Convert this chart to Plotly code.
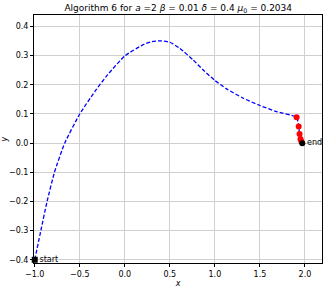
import plotly.graph_objects as go

# path of the iterates
path_x = [-1.0, -0.93, -0.863, -0.781, -0.667, -0.5, -0.333, -0.192, 0.0, 0.2, 0.3, 0.389, 0.5, 0.611, 0.759, 0.87, 0.992, 1.13, 1.315, 1.5, 1.685, 1.907, 1.93, 1.94, 1.95, 1.97]
path_y = [-0.4, -0.297, -0.2, -0.1, 0.0, 0.1, 0.177, 0.234, 0.299, 0.337, 0.348, 0.351, 0.346, 0.325, 0.285, 0.251, 0.217, 0.186, 0.154, 0.129, 0.108, 0.089, 0.057, 0.031, 0.014, 0.0]

# highlighted iterates (red)
red_x = [1.907, 1.93, 1.94, 1.95, 1.96]
red_y = [0.089, 0.057, 0.031, 0.014, 0.006]

start_x, start_y = -1.0, -0.4
end_x, end_y = 1.97, 0.0

x_ticks = [-1.0, -0.5, 0.0, 0.5, 1.0, 1.5, 2.0]
y_ticks = [-0.4, -0.3, -0.2, -0.1, 0.0, 0.1, 0.2, 0.3, 0.4]

FONT = "DejaVu Sans"

fig = go.Figure()
fig.add_trace(go.Scatter(x=path_x, y=path_y, mode="lines",
                         line=dict(color="blue", width=1.3, dash="4px,2px", shape="spline", smoothing=0.5),
                         showlegend=False, hoverinfo="skip"))
fig.add_trace(go.Scatter(x=red_x, y=red_y, mode="markers", cliponaxis=False,
                         marker=dict(color="red", size=6), showlegend=False))
fig.add_trace(go.Scatter(x=[start_x], y=[start_y], mode="markers+text", cliponaxis=False,
                         marker=dict(color="black", size=6, symbol="square"),
                         text=["start"], textposition="middle right",
                         textfont=dict(size=8, color="black", family=FONT),
                         showlegend=False))
fig.add_trace(go.Scatter(x=[end_x], y=[end_y], mode="markers+text", cliponaxis=False,
                         marker=dict(color="black", size=6),
                         text=["end"], textposition="middle right",
                         textfont=dict(size=8, color="black", family=FONT),
                         showlegend=False))

axis_common = dict(showgrid=True, gridcolor="#d0d0d0", gridwidth=1,
                   showline=True, linecolor="black", linewidth=1, mirror=True,
                   ticks="outside", ticklen=3, tickcolor="black",
                   tickfont=dict(size=8, color="black", family=FONT),
                   zeroline=False, automargin=False)

fig.update_layout(
    width=327, height=290,
    margin=dict(l=34, r=5, t=15, b=27),
    paper_bgcolor="white", plot_bgcolor="white",
    title=dict(text="Algorithm 6 for <i>a</i> =2 <i>β</i> = 0.01 <i>δ</i> = 0.4 <i>μ</i><sub>0</sub> = 0.2034",
               x=0.545, xanchor="center", y=0.972, yanchor="middle", automargin=False,
               font=dict(size=9, color="black", family=FONT)),
    xaxis=dict(range=[-1.008, 2.189], tickvals=x_ticks, ticktext=[f"{v:.1f}".replace("-", "−") for v in x_ticks],
               title=dict(text="<i>x</i>", font=dict(size=8, color="black", family=FONT), standoff=2),
               **axis_common),
    yaxis=dict(range=[-0.411, 0.4394], tickvals=y_ticks, ticktext=[f"{v:.1f}".replace("-", "−") for v in y_ticks],
               title=dict(text="<i>y</i>", font=dict(size=8, color="black", family=FONT), standoff=2),
               **axis_common),
)

fig.write_html("out.html", config={"displayModeBar": False},
               post_script="document.body.style.margin='0';")
